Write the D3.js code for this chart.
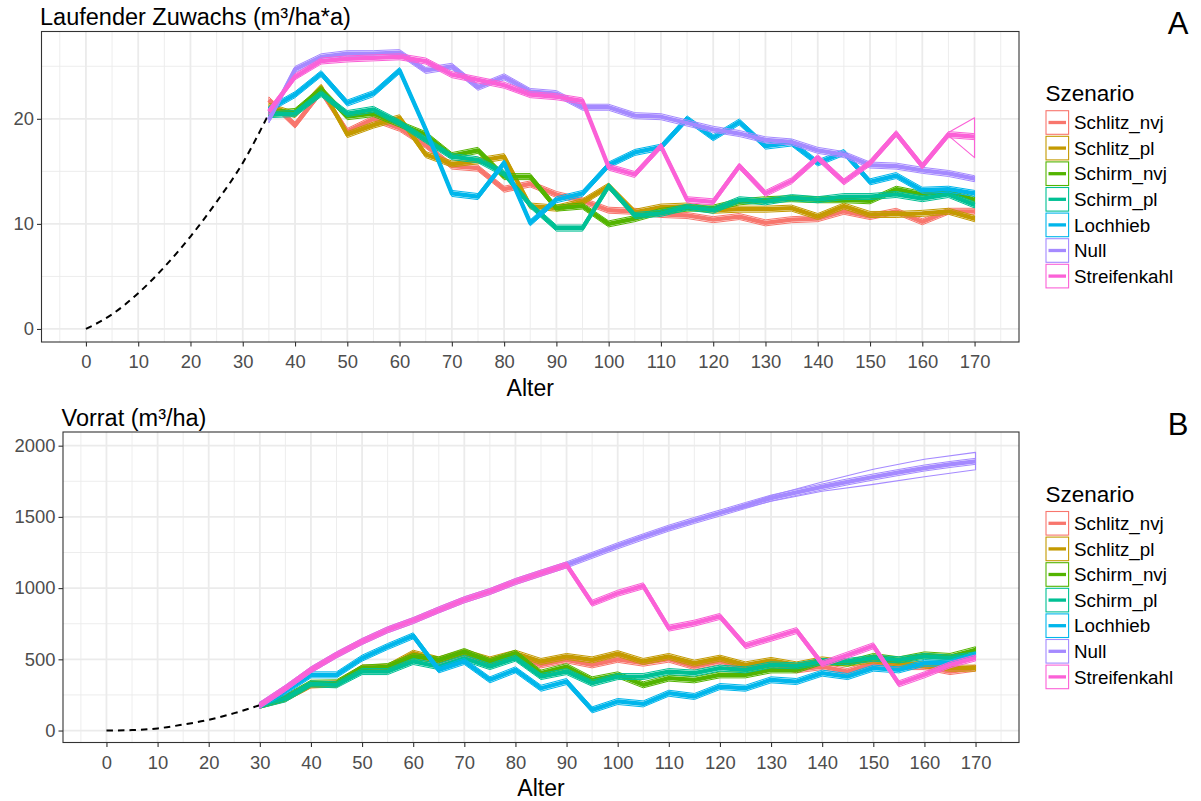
<!DOCTYPE html>
<html><head><meta charset="utf-8">
<script src="https://cdn.jsdelivr.net/npm/d3@7"></script>
<style>
body{margin:0;background:#fff;}
text{font-family:"Liberation Sans", Arial, sans-serif;}
</style>
</head><body>
<svg id="chart" width="1201" height="801"></svg>
<script>
// ---------- data ----------
const scenarios = ["Schlitz_nvj","Schlitz_pl","Schirm_nvj","Schirm_pl","Lochhieb","Null","Streifenkahl"];
const scenarioColors = ["#F8766D","#C49A00","#53B400","#00C094","#00B6EB","#A58AFF","#FB61D7"];
const xTickLabels = [0,10,20,30,40,50,60,70,80,90,100,110,120,130,140,150,160,170];
const xMinorTicks = [-5,5,15,25,35,45,55,65,75,85,95,105,115,125,135,145,155,165,175];

// Panel A: Laufender Zuwachs
const agesA = [35,40,45,50,55,60,65,70,75,80,85,90,95,100,105,110,115,120,125,130,135,140,145,150,155,160,165,170];
const zuwachs_Schlitz_nvj = [21.8,19.4,22.6,18.8,20.0,19.1,17.5,15.5,15.3,13.3,13.8,12.8,12.2,11.3,11.2,10.9,10.8,10.4,10.7,10.1,10.4,10.5,11.2,10.7,11.2,10.2,11.2,11.2];
const zuwachs_Schlitz_pl  = [21.2,20.4,23.0,18.5,19.4,20.1,16.6,15.7,16.0,16.4,11.7,11.5,12.1,13.6,11.1,11.6,11.7,11.3,11.4,11.4,11.5,10.7,11.7,10.9,10.9,11.0,11.2,10.5];
const zuwachs_Schirm_nvj  = [20.5,20.7,22.8,20.2,20.5,19.5,18.5,16.5,17.0,14.5,14.5,11.5,11.7,10.0,10.5,11.2,11.5,11.5,12.1,12.3,12.4,12.3,12.3,12.2,13.3,12.8,13.1,12.3];
const zuwachs_Schirm_pl   = [20.4,20.5,22.4,20.5,20.9,19.6,18.0,16.4,16.1,14.8,11.8,9.6,9.6,13.6,10.8,11.0,11.6,11.3,12.3,12.1,12.5,12.3,12.6,12.6,12.8,12.4,12.8,11.8];
const zuwachs_Lochhieb    = [20.9,22.3,24.3,21.5,22.4,24.6,19.0,12.9,12.6,15.8,10.1,12.3,12.9,15.6,16.8,17.3,20.0,18.2,19.7,17.4,17.7,15.8,16.8,14.0,14.6,13.2,13.3,12.9];
const zuwachs_Null        = [19.9,24.7,25.9,26.2,26.2,26.3,24.6,25.0,23.0,24.0,22.6,22.4,21.1,21.1,20.3,20.2,19.6,19.0,18.6,18.0,17.8,17.0,16.6,15.6,15.5,15.1,14.8,14.3];
const zuwachs_Streifenkahl= [20.7,24.0,25.5,25.7,25.8,25.9,25.5,24.2,23.7,23.2,22.3,22.1,21.7,15.4,14.7,17.4,12.3,12.1,15.5,12.9,14.1,16.3,14.0,15.8,18.6,15.5,18.5,18.3];
const zuwachsTicks = [0,10,20];
const zuwachsMinor = [5,15,25];
const preAgesA = [0,5,10,15,20,25,30,35];
const preZuwachs = [0,1.4,3.4,5.9,8.8,12.1,15.8,20.5];
// widening spread of Streifenkahl at the end
const fanAgesA = [165,170];
const fanStreifenkahlHi = [18.7,20.1];
const fanStreifenkahlLo = [18.4,16.3];

// Panel B: Vorrat
const agesB = [30,35,40,45,50,55,60,65,70,75,80,85,90,95,100,105,110,115,120,125,130,135,140,145,150,155,160,165,170];
const vorrat_Schlitz_nvj = [178,227,321,328,438,426,531,485,538,473,520,461,496,461,500,473,501,449,485,438,468,426,449,414,473,449,449,414,438];
const vorrat_Schlitz_pl  = [178,225,321,325,438,445,543,496,548,496,543,485,520,496,540,485,520,473,508,461,492,461,496,473,496,473,461,438,438];
const vorrat_Schirm_nvj  = [178,230,332,335,438,449,520,496,555,485,543,403,449,356,391,321,368,356,391,391,426,426,485,473,520,496,531,520,567];
const vorrat_Schirm_pl   = [178,222,328,321,414,414,485,449,508,449,508,379,414,332,379,379,414,403,438,426,461,454,485,485,508,496,520,508,531];
const vorrat_Lochhieb    = [178,274,391,391,508,590,665,426,485,356,426,297,344,145,204,187,262,239,309,297,356,344,403,379,438,426,473,473,531];
const vorrat_Null        = [178,297,426,531,625,707,772,847,918,976,1046,1105,1163,1230,1297,1360,1421,1475,1527,1580,1632,1672,1710,1746,1780,1812,1843,1868,1890];
const vorrat_Streifenkahl= [178,297,426,531,625,707,772,847,918,976,1046,1105,1163,894,964,1016,719,754,801,595,648,702,468,531,595,328,391,461,510];
const vorratTicks = [0,500,1000,1500,2000];
const vorratMinor = [250,750,1250,1750];
const preAgesB = [0,5,10,15,20,25,30];
const preVorrat = [0,3,15,42,75,122,178];
// widening spread of Null at the end
const fanAgesB = [120,130,140,150,160,170];
const fanNullHi = [1535,1648,1745,1835,1905,1953];
const fanNullLo = [1520,1610,1680,1728,1782,1831];

// ---------- drawing ----------
const svg = d3.select("#chart");
const xDomain = [-8.5, 178.5];
const GRID = "#EBEBEB";

function drawPanel(cfg) {
  const g = svg.append("g");
  const x = d3.scaleLinear().domain(xDomain).range([cfg.left, cfg.right]);
  const y = d3.scaleLinear().domain(cfg.yDomain).range([cfg.bottom, cfg.top]);

  // minor grid
  g.selectAll(".xminor").data(xMinorTicks).join("line")
    .attr("x1", d => x(d)).attr("x2", d => x(d))
    .attr("y1", cfg.top).attr("y2", cfg.bottom)
    .attr("stroke", GRID).attr("stroke-width", 0.9);
  g.selectAll(".yminor").data(cfg.yMinor).join("line")
    .attr("y1", d => y(d)).attr("y2", d => y(d))
    .attr("x1", cfg.left).attr("x2", cfg.right)
    .attr("stroke", GRID).attr("stroke-width", 0.9);
  // major grid
  g.selectAll(".xmajor").data(xTickLabels).join("line")
    .attr("x1", d => x(d)).attr("x2", d => x(d))
    .attr("y1", cfg.top).attr("y2", cfg.bottom)
    .attr("stroke", GRID).attr("stroke-width", 1.8);
  g.selectAll(".ymajor").data(cfg.yTicks).join("line")
    .attr("y1", d => y(d)).attr("y2", d => y(d))
    .attr("x1", cfg.left).attr("x2", cfg.right)
    .attr("stroke", GRID).attr("stroke-width", 1.8);

  // dashed pre-phase
  const lineGen = d3.line().x(d => x(d[0])).y(d => y(d[1])).curve(d3.curveMonotoneX);
  g.append("path")
    .attr("d", lineGen(cfg.preAges.map((a, i) => [a, cfg.preValues[i]])))
    .attr("fill", "none").attr("stroke", "#000").attr("stroke-width", 2)
    .attr("stroke-dasharray", "6.5,5");

  const pxLine = d3.line();
  cfg.series.forEach((vals, si) => {
    const col = scenarioColors[si];
    const pts = cfg.ages.map((a, i) => [x(a), y(vals[i])]);
    const off = 3.0;
    const top = pts.map(p => [p[0], p[1] - off]);
    const bot = pts.map(p => [p[0], p[1] + off]).reverse();
    g.append("path").attr("d", pxLine(top.concat(bot)) + "Z")
      .attr("fill", "none").attr("stroke", col).attr("stroke-width", 1)
      .attr("stroke-linejoin", "round");
    g.append("path").attr("d", pxLine(pts))
      .attr("fill", "none").attr("stroke", col).attr("stroke-width", 4.3)
      .attr("stroke-linejoin", "round");
    if (cfg.fan && cfg.fan.index === si) {
      const f = cfg.fan;
      const hi = f.ages.map((a, i) => [x(a), y(f.hi[i])]);
      const lo = f.ages.map((a, i) => [x(a), y(f.lo[i])]).reverse();
      g.append("path").attr("d", pxLine(hi.concat(lo)))
        .attr("fill", "none").attr("stroke", col).attr("stroke-width", 1.1)
        .attr("stroke-linejoin", "round");
    }
  });

  // panel border
  g.append("rect").attr("x", cfg.left).attr("y", cfg.top)
    .attr("width", cfg.right - cfg.left).attr("height", cfg.bottom - cfg.top)
    .attr("fill", "none").attr("stroke", "#333").attr("stroke-width", 1.1);

  // axes
  const ax = g.append("g").attr("transform", `translate(0,${cfg.bottom})`)
    .call(d3.axisBottom(x).tickValues(xTickLabels).tickSize(4.5).tickPadding(8.5).tickFormat(d3.format("d")));
  const ay = g.append("g").attr("transform", `translate(${cfg.left},0)`)
    .call(d3.axisLeft(y).tickValues(cfg.yTicks).tickSize(4.5).tickPadding(3).tickFormat(d3.format("d")));
  [ax, ay].forEach(a => {
    a.select(".domain").remove();
    a.selectAll(".tick line").attr("stroke", "#333").attr("stroke-width", 1.1);
    a.selectAll(".tick text").attr("fill", "#4D4D4D").style("font-size", "18.4px")
      .style("font-family", '"Liberation Sans", Arial, sans-serif');
  });

  // titles
  g.append("text").attr("x", cfg.left - 1.5).attr("y", cfg.titleY)
    .style("font-size", "23.5px").attr("fill", "#000").text(cfg.title);
  g.append("text").attr("x", (cfg.left + cfg.right) / 2).attr("y", cfg.xTitleY)
    .attr("text-anchor", "middle").style("font-size", "23px").attr("fill", "#000").text("Alter");
  g.append("text").attr("x", 1178).attr("y", cfg.letterY).attr("text-anchor", "middle")
    .style("font-size", "31px").attr("fill", "#000").text(cfg.letter);

  // legend
  const lg = g.append("g");
  lg.append("text").attr("x", 1045.5).attr("y", cfg.legendTitleY)
    .style("font-size", "22.5px").attr("fill", "#000").text("Szenario");
  scenarios.forEach((s, i) => {
    const cy = cfg.legendFirstY + i * 25.6;
    lg.append("rect").attr("x", 1046).attr("y", cy - 11.8).attr("width", 22.6).attr("height", 23.6)
      .attr("fill", "#fff").attr("stroke", scenarioColors[i]).attr("stroke-width", 1.1);
    lg.append("line").attr("x1", 1048.5).attr("x2", 1066).attr("y1", cy).attr("y2", cy)
      .attr("stroke", scenarioColors[i]).attr("stroke-width", 3.3);
    lg.append("text").attr("x", 1074).attr("y", cy).attr("dy", "0.36em")
      .style("font-size", "18.8px").attr("fill", "#000").text(s);
  });
}

drawPanel({
  left: 41.5, right: 1019, top: 31.5, bottom: 342,
  yDomain: [-1.24, 28.31], yTicks: zuwachsTicks, yMinor: zuwachsMinor,
  ages: agesA,
  series: [zuwachs_Schlitz_nvj, zuwachs_Schlitz_pl, zuwachs_Schirm_nvj, zuwachs_Schirm_pl, zuwachs_Lochhieb, zuwachs_Null, zuwachs_Streifenkahl],
  preAges: preAgesA, preValues: preZuwachs,
  fan: {index: 6, ages: fanAgesA, hi: fanStreifenkahlHi, lo: fanStreifenkahlLo},
  title: "Laufender Zuwachs (m³/ha*a)", titleY: 25, xTitleY: 396,
  letter: "A", letterY: 34,
  legendTitleY: 101, legendFirstY: 122.5
});

drawPanel({
  left: 63, right: 1019, top: 432, bottom: 742.5,
  yDomain: [-84, 2096], yTicks: vorratTicks, yMinor: vorratMinor,
  ages: agesB,
  series: [vorrat_Schlitz_nvj, vorrat_Schlitz_pl, vorrat_Schirm_nvj, vorrat_Schirm_pl, vorrat_Lochhieb, vorrat_Null, vorrat_Streifenkahl],
  preAges: preAgesB, preValues: preVorrat,
  fan: {index: 5, ages: fanAgesB, hi: fanNullHi, lo: fanNullLo},
  title: "Vorrat (m³/ha)", titleY: 426, xTitleY: 796,
  letter: "B", letterY: 435,
  legendTitleY: 501.5, legendFirstY: 523.3
});
</script>
</body></html>
